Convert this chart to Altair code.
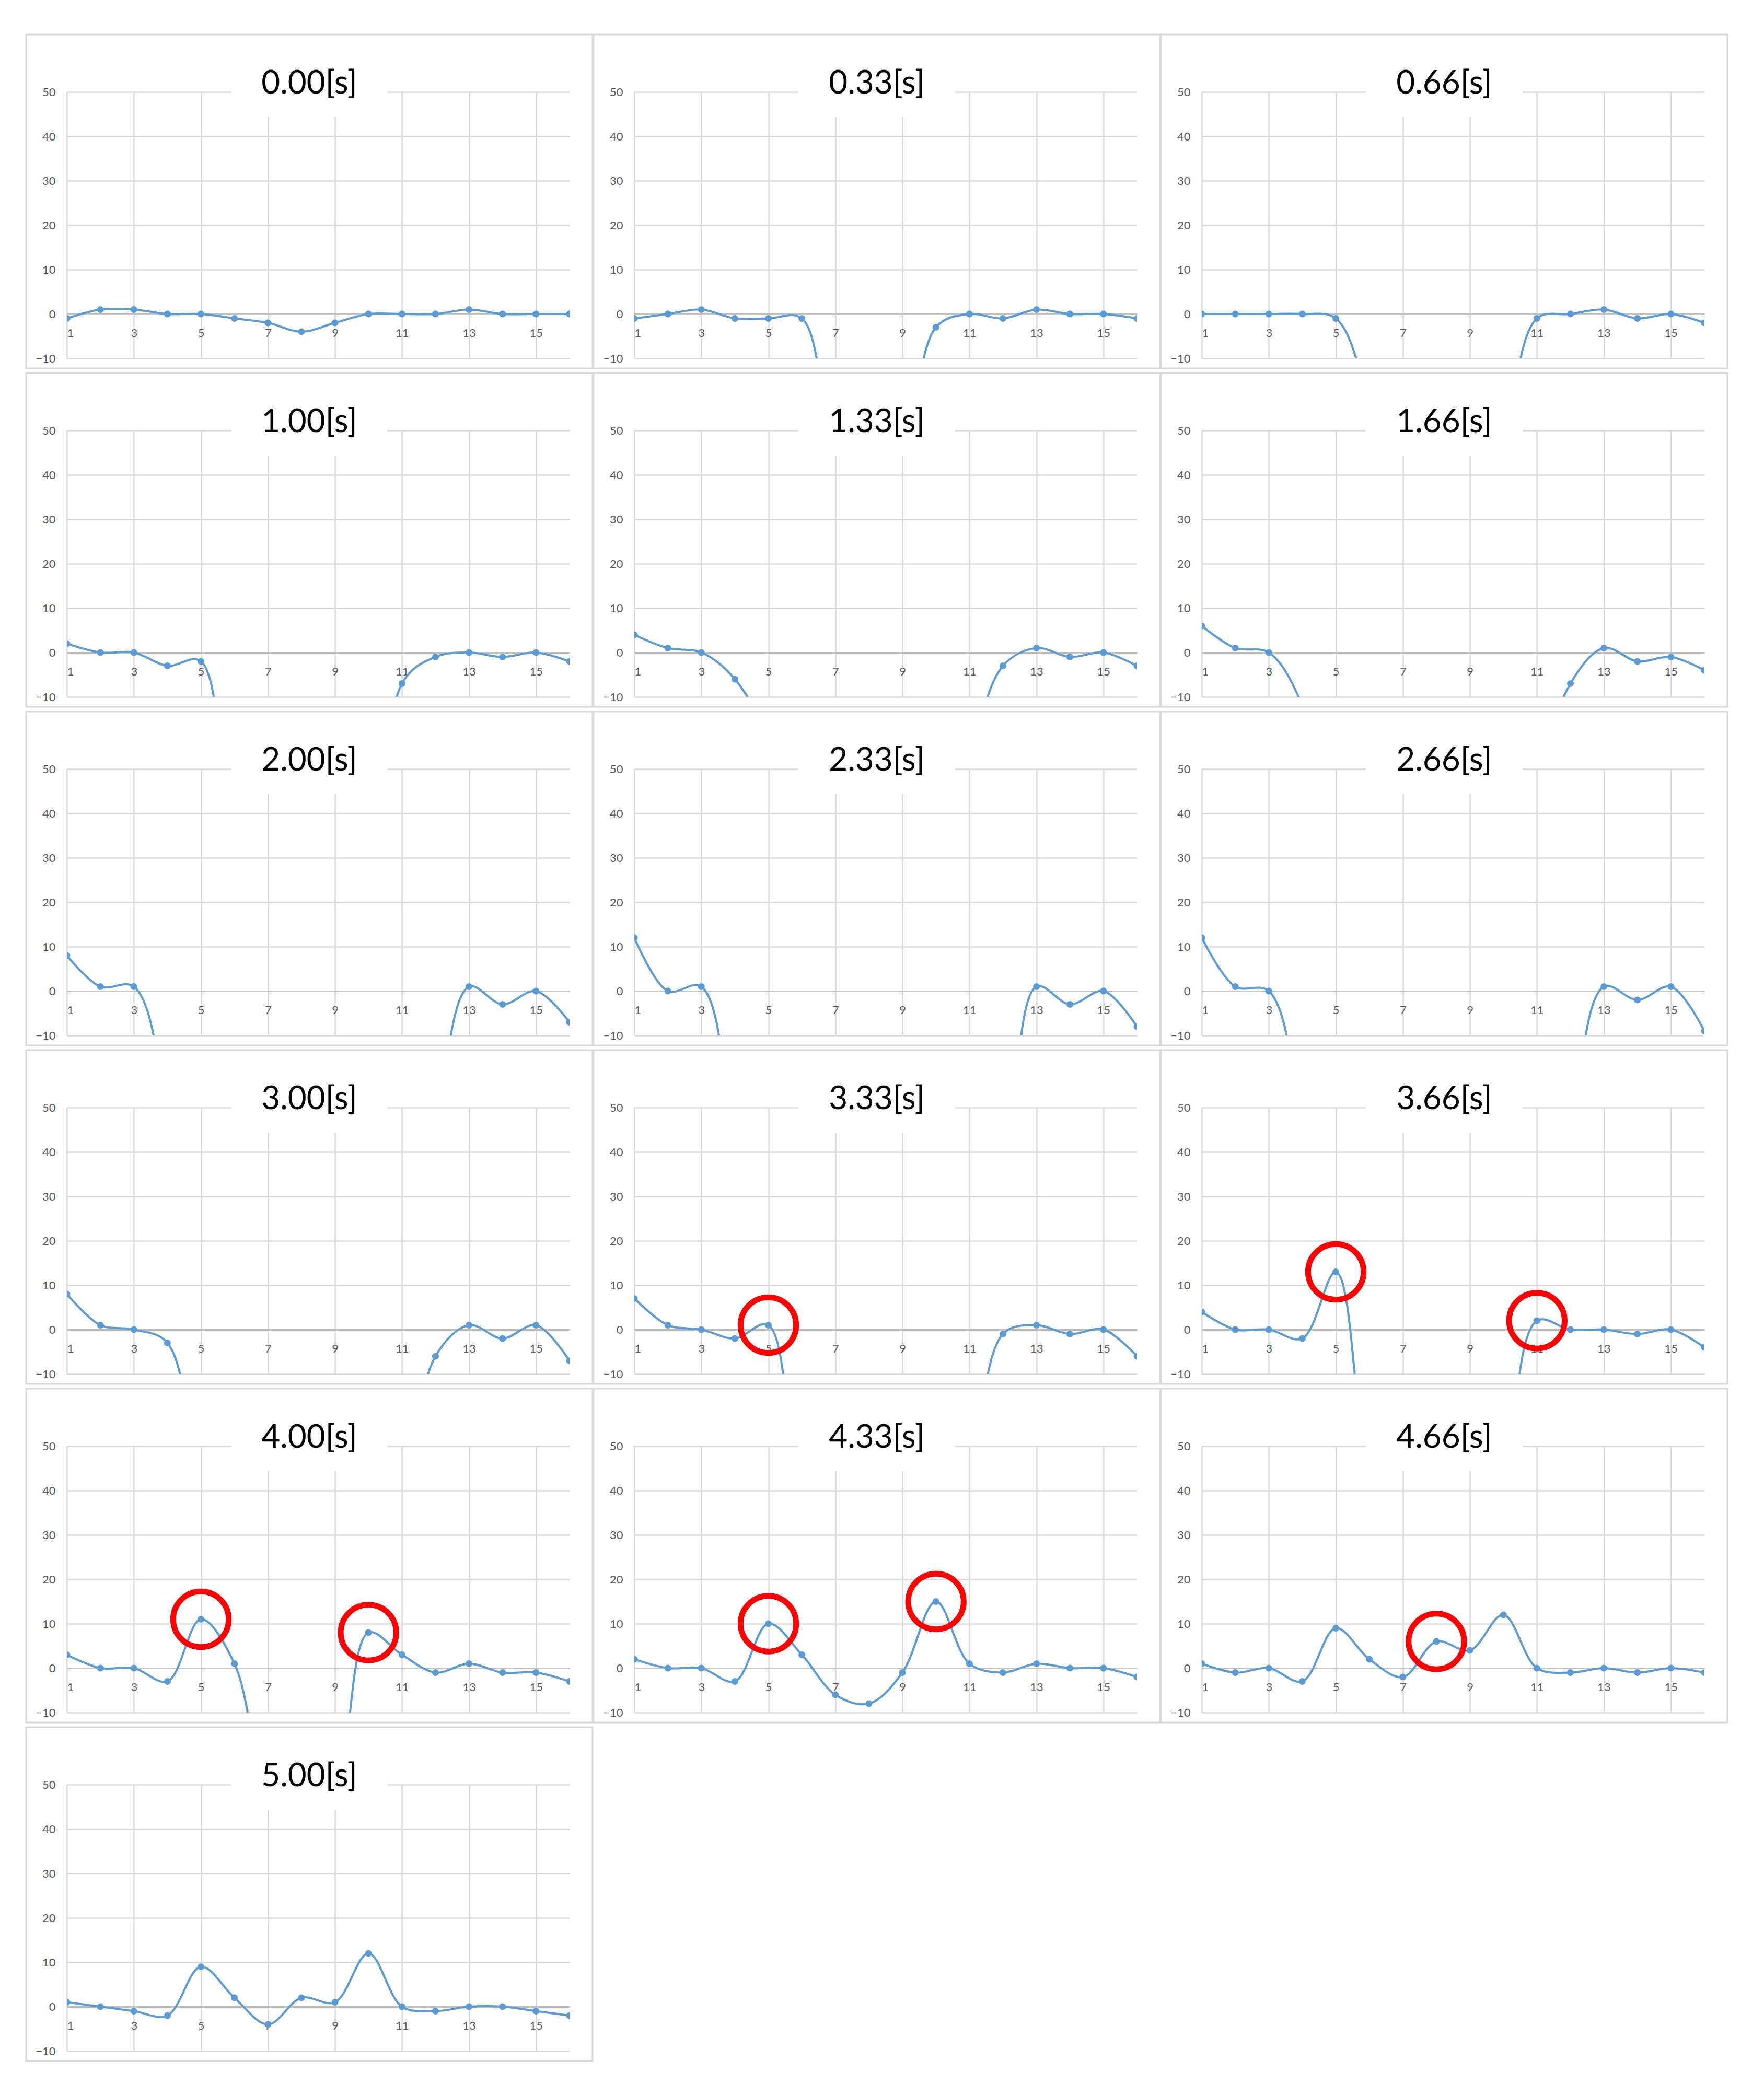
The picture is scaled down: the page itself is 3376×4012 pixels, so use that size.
import altair as alt
import pandas as pd

TITLES = ["0.00[s]", "0.33[s]", "0.66[s]", "1.00[s]", "1.33[s]", "1.66[s]",
          "2.00[s]", "2.33[s]", "2.66[s]", "3.00[s]", "3.33[s]", "3.66[s]",
          "4.00[s]", "4.33[s]", "4.66[s]", "5.00[s]"]

X_POS = list(range(1, 17))

v000 = [-1, 1, 1, 0, 0, -1, -2, -4, -2, 0, 0, 0, 1, 0, 0, 0]
v033 = [-1, 0, 1, -1, -1, -1, -40, -60, -40, -3, 0, -1, 1, 0, 0, -1]
v066 = [0, 0, 0, 0, -1, -20, -50, -65, -55, -30, -1, 0, 1, -1, 0, -2]
v100 = [2, 0, 0, -3, -2, -80, -100, -100, -100, -80, -7, -1, 0, -1, 0, -2]
v133 = [4, 1, 0, -6, -20, -60, -80, -90, -80, -60, -25, -3, 1, -1, 0, -3]
v166 = [6, 1, 0, -12, -45, -70, -80, -80, -80, -70, -30, -7, 1, -2, -1, -4]
v200 = [8, 1, 1, -25, -60, -80, -90, -90, -90, -80, -60, -30, 1, -3, 0, -7]
v233 = [12, 0, 1, -35, -70, -90, -100, -100, -100, -90, -70, -50, 1, -3, 0, -8]
v266 = [12, 1, 0, -28, -60, -80, -90, -90, -90, -80, -60, -30, 1, -2, 1, -9]
v300 = [8, 1, 0, -3, -40, -70, -80, -80, -80, -70, -40, -6, 1, -2, 1, -7]
v333 = [7, 1, 0, -2, 1, -80, -100, -100, -100, -80, -40, -1, 1, -1, 0, -6]
v366 = [4, 0, 0, -2, 13, -40, -70, -80, -70, -40, 2, 0, 0, -1, 0, -4]
v400 = [3, 0, 0, -3, 11, 1, -30, -40, -30, 8, 3, -1, 1, -1, -1, -3]
v433 = [2, 0, 0, -3, 10, 3, -6, -8, -1, 15, 1, -1, 1, 0, 0, -2]
v466 = [1, -1, 0, -3, 9, 2, -2, 6, 4, 12, 0, -1, 0, -1, 0, -1]
v500 = [1, 0, -1, -2, 9, 2, -4, 2, 1, 12, 0, -1, 0, 0, -1, -2]

SERIES = [v000, v033, v066, v100, v133, v166, v200, v233, v266,
          v300, v333, v366, v400, v433, v466, v500]

# (panel, x) pairs circled in red
HIGHLIGHT = [("3.33[s]", 5), ("3.66[s]", 5), ("3.66[s]", 11),
             ("4.00[s]", 5), ("4.00[s]", 10), ("4.33[s]", 5), ("4.33[s]", 10),
             ("4.66[s]", 8)]

X_TICKS = [1, 3, 5, 7, 9, 11, 13, 15]
Y_TICKS = [-10, 0, 10, 20, 30, 40, 50]

rows = []
for t, vals in zip(TITLES, SERIES):
    for xv, yv in zip(X_POS, vals):
        rows.append({"t": t, "x": xv, "y": yv, "hl": (t, xv) in HIGHLIGHT})
df = pd.DataFrame(rows)

W, H = 962, 510
BLUE = "#5B9BD5"

xenc = alt.X("x:Q", scale=alt.Scale(domain=[1, 16], nice=False, zero=False),
             axis=alt.Axis(values=X_TICKS, title=None, offset=-H / 6, ticks=False,
                           domainColor="#bfbfbf", domainWidth=3, labelPadding=26,
                           labelAngle=0))
yenc = alt.Y("y:Q", scale=alt.Scale(domain=[-10, 50], nice=False, zero=False),
             axis=alt.Axis(values=Y_TICKS, title=None, domain=False, ticks=False,
                           labelPadding=22))

base = alt.Chart(df)

frame = base.transform_filter("datum.x == 1").mark_rect(
    fill="white", fillOpacity=0, stroke="#d9d9d9", strokeWidth=3
).encode(x=alt.value(-78), x2=alt.value(W + 44), y=alt.value(-110), y2=alt.value(H + 19))

titlebox = base.transform_filter("datum.x == 1").mark_rect(
    fill="white"
).encode(x=alt.value(314), x2=alt.value(614), y=alt.value(-45), y2=alt.value(48))

titletext = base.transform_filter("datum.x == 1").mark_text(
    font="Lato", fontSize=62, color="black", align="center", baseline="middle"
).encode(text="t:N", x=alt.value(464), y=alt.value(-16))

line = base.mark_line(interpolate="catmull-rom", clip=True, color=BLUE,
                      strokeWidth=4).encode(x=xenc, y=yenc)
pts = base.mark_point(filled=True, size=170, clip=True, color=BLUE,
                      opacity=1).encode(x=xenc, y=yenc)
circ = base.transform_filter("datum.hl").mark_point(
    shape="circle", filled=False, size=11300, strokeWidth=11, color="#FF0000", opacity=1
).encode(x=xenc, y=yenc)

layer = alt.layer(frame, titlebox, titletext, line, pts, circ).properties(width=W, height=H)

chart = layer.facet(
    facet=alt.Facet("t:N", sort=TITLES,
                    header=alt.Header(labels=False, labelExpr="''", labelFontSize=1,
                                      labelPadding=0, title=None),
                    title=None),
    columns=3,
    spacing={"row": 138, "column": 124},
    bounds="flush",
).resolve_axis(
    x="independent", y="independent"
).properties(
    padding={"left": 40, "top": 55, "right": 10, "bottom": 10}
).configure_view(
    stroke=None
).configure_header(
    labels=False, title=None
).configure_axis(
    labelFont="Lato", labelFontSize=22, labelColor="#595959",
    gridColor="#d9d9d9", gridWidth=2.5
)

chart.save("out.html", embed_options={"renderer": "svg", "actions": False})
